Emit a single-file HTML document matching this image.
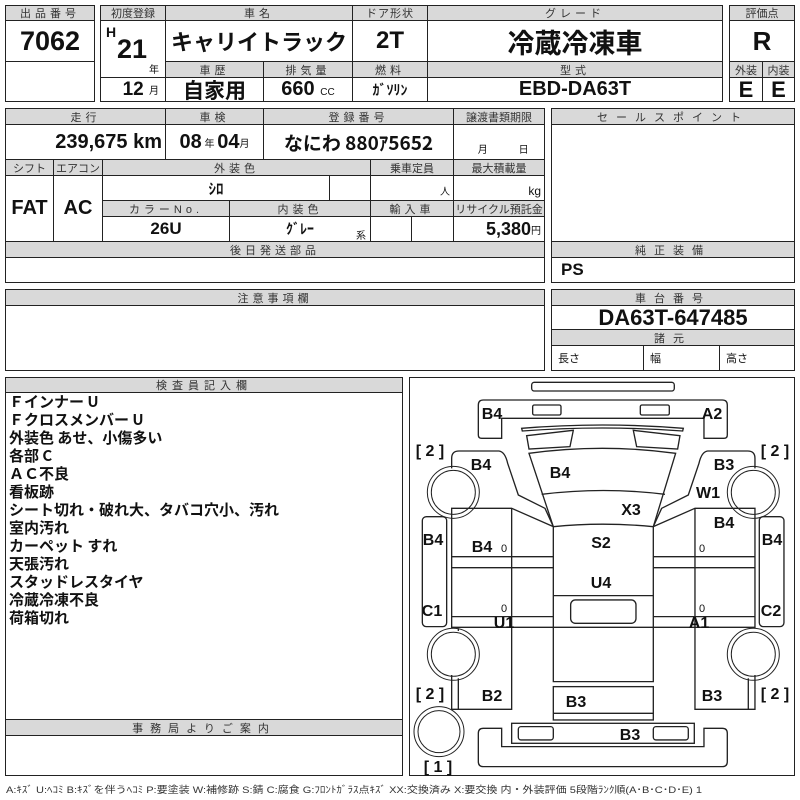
<!DOCTYPE html>
<html><head><meta charset="utf-8">
<style>
body{margin:0;width:800px;height:800px;background:#fff;position:relative;overflow:hidden;font-family:"Liberation Sans","Noto Sans CJK JP",sans-serif;color:#111}
.b{position:absolute;border:1px solid #222;box-sizing:border-box;display:flex;align-items:center;justify-content:center;white-space:nowrap;margin:0}
.h{background:#d9d9d9;font-size:11px;color:#333;letter-spacing:4px}
.v{font-family:"Liberation Sans Narrow","Liberation Sans","Noto Sans CJK JP",sans-serif;font-weight:bold}
.s{font-size:10px;font-weight:normal;font-family:"Liberation Sans","Noto Sans CJK JP",sans-serif}
.ins{position:absolute;left:9px;font-weight:bold;font-size:15px;font-family:"Noto Sans CJK JP",sans-serif;line-height:18px}
</style></head><body>
<!-- block 1 -->
<div class="b h" style="left:5px;top:5px;width:90px;height:16px">出品番号</div>
<div class="b v" style="left:5px;top:20px;width:90px;height:42px;font-size:27px">7062</div>
<div class="b" style="left:5px;top:61px;width:90px;height:41px"></div>

<div class="b h" style="left:100px;top:5px;width:66px;height:16px;letter-spacing:0">初度登録</div>
<div class="b h" style="left:165px;top:5px;width:188px;height:16px">車名</div>
<div class="b h" style="left:352px;top:5px;width:76px;height:16px;letter-spacing:1px">ドア形状</div>
<div class="b h" style="left:427px;top:5px;width:296px;height:16px">グレード</div>
<div class="b" style="left:100px;top:20px;width:66px;height:58px"></div>
<div class="v" style="position:absolute;left:106px;top:24px;font-size:14px">H</div>
<div class="v" style="position:absolute;left:117px;top:34px;font-size:27px">21</div>
<div class="s" style="position:absolute;left:149px;top:61px">年</div>
<div class="b v" style="left:165px;top:20px;width:188px;height:42px;font-size:22px;font-family:'Noto Sans CJK JP',sans-serif">キャリイトラック</div>
<div class="b v" style="left:352px;top:20px;width:76px;height:42px;font-size:24px">2T</div>
<div class="b" style="left:427px;top:20px;width:296px;height:42px;font-size:27px;font-weight:bold;font-family:'Noto Sans CJK JP',sans-serif">冷蔵冷凍車</div>
<div class="b h" style="left:165px;top:61px;width:99px;height:17px">車歴</div>
<div class="b h" style="left:263px;top:61px;width:90px;height:17px">排気量</div>
<div class="b h" style="left:352px;top:61px;width:76px;height:17px">燃料</div>
<div class="b h" style="left:427px;top:61px;width:296px;height:17px">型式</div>
<div class="b v" style="left:100px;top:77px;width:66px;height:25px;font-size:19px;justify-content:flex-end;padding-right:6px">12&nbsp;<span class="s">月</span></div>
<div class="b" style="left:165px;top:77px;width:99px;height:25px;font-size:21px;font-weight:bold;font-family:'Noto Sans CJK JP',sans-serif">自家用</div>
<div class="b v" style="left:263px;top:77px;width:90px;height:25px;font-size:20px">660&nbsp;<span class="s" style="margin-top:6px">CC</span></div>
<div class="b" style="left:352px;top:77px;width:76px;height:25px;font-size:14px;font-weight:bold;font-family:'Noto Sans CJK JP',sans-serif">ｶﾞｿﾘﾝ</div>
<div class="b v" style="left:427px;top:77px;width:296px;height:25px;font-size:20px">EBD-DA63T</div>

<div class="b h" style="left:729px;top:5px;width:66px;height:16px;letter-spacing:0">評価点</div>
<div class="b v" style="left:729px;top:20px;width:66px;height:42px;font-size:26px">R</div>
<div class="b h" style="left:729px;top:61px;width:34px;height:17px;letter-spacing:0">外装</div>
<div class="b h" style="left:762px;top:61px;width:33px;height:17px;letter-spacing:0">内装</div>
<div class="b v" style="left:729px;top:77px;width:34px;height:25px;font-size:22px">E</div>
<div class="b v" style="left:762px;top:77px;width:33px;height:25px;font-size:22px">E</div>

<!-- block 2 -->
<div class="b h" style="left:5px;top:108px;width:161px;height:17px">走行</div>
<div class="b h" style="left:165px;top:108px;width:99px;height:17px">車検</div>
<div class="b h" style="left:263px;top:108px;width:191px;height:17px">登録番号</div>
<div class="b h" style="left:453px;top:108px;width:92px;height:17px;letter-spacing:0">譲渡書類期限</div>
<div class="b v" style="left:5px;top:124px;width:161px;height:36px;font-size:20px;justify-content:flex-end;padding-right:3px">239,675 km</div>
<div class="b v" style="left:165px;top:124px;width:99px;height:36px;font-size:20px">08<span class="s">&nbsp;年&nbsp;</span>04<span class="s">月</span></div>
<div class="b" style="left:263px;top:124px;width:191px;height:36px;font-size:19px;font-weight:bold;font-family:'Noto Sans CJK JP',sans-serif">なにわ 880ｱ5652</div>
<div class="b s" style="left:453px;top:124px;width:92px;height:36px;align-items:flex-end;padding-bottom:3px;justify-content:space-around">&nbsp;&nbsp;&nbsp;月<span>日</span></div>
<div class="b h" style="left:5px;top:159px;width:49px;height:17px;letter-spacing:0">シフト</div>
<div class="b h" style="left:53px;top:159px;width:50px;height:17px;letter-spacing:0">エアコン</div>
<div class="b h" style="left:102px;top:159px;width:269px;height:17px">外装色</div>
<div class="b h" style="left:370px;top:159px;width:84px;height:17px;letter-spacing:0">乗車定員</div>
<div class="b h" style="left:453px;top:159px;width:92px;height:17px;letter-spacing:0">最大積載量</div>
<div class="b v" style="left:5px;top:175px;width:49px;height:67px;font-size:20px">FAT</div>
<div class="b v" style="left:53px;top:175px;width:50px;height:67px;font-size:20px">AC</div>
<div class="b" style="left:102px;top:175px;width:228px;height:26px;font-size:15px;font-weight:bold">ｼﾛ</div>
<div class="b" style="left:329px;top:175px;width:42px;height:26px"></div>
<div class="b s" style="left:370px;top:175px;width:84px;height:26px;justify-content:flex-end;align-items:flex-end;padding:0 3px 2px 0">人</div>
<div class="b s" style="left:453px;top:175px;width:92px;height:26px;justify-content:flex-end;align-items:flex-end;padding:0 3px 2px 0;font-size:12px">kg</div>
<div class="b h" style="left:102px;top:200px;width:128px;height:17px">カラーNo.</div>
<div class="b h" style="left:229px;top:200px;width:142px;height:17px">内装色</div>
<div class="b h" style="left:370px;top:200px;width:84px;height:17px">輸入車</div>
<div class="b h" style="left:453px;top:200px;width:92px;height:17px;letter-spacing:0">リサイクル預託金</div>
<div class="b v" style="left:102px;top:216px;width:128px;height:26px;font-size:17px">26U</div>
<div class="b" style="left:229px;top:216px;width:142px;height:26px;font-size:14px;font-weight:bold">ｸﾞﾚｰ</div>
<div class="s" style="position:absolute;left:356px;top:227px">系</div>
<div class="b" style="left:370px;top:216px;width:42px;height:26px"></div>
<div class="b" style="left:411px;top:216px;width:43px;height:26px"></div>
<div class="b v" style="left:453px;top:216px;width:92px;height:26px;font-size:18px;justify-content:flex-end;padding-right:3px">5,380<span class="s">円</span></div>
<div class="b h" style="left:5px;top:241px;width:540px;height:17px">後日発送部品</div>
<div class="b" style="left:5px;top:257px;width:540px;height:26px"></div>

<div class="b h" style="left:551px;top:108px;width:244px;height:17px;letter-spacing:8px">セールスポイント</div>
<div class="b" style="left:551px;top:124px;width:244px;height:118px"></div>
<div class="b h" style="left:551px;top:241px;width:244px;height:17px;letter-spacing:8px">純正装備</div>
<div class="b v" style="left:551px;top:257px;width:244px;height:26px;font-size:17px;justify-content:flex-start;padding-left:9px">PS</div>

<!-- block 3 -->
<div class="b h" style="left:5px;top:289px;width:540px;height:17px">注意事項欄</div>
<div class="b" style="left:5px;top:305px;width:540px;height:66px"></div>
<div class="b h" style="left:551px;top:289px;width:244px;height:17px;letter-spacing:8px">車台番号</div>
<div class="b v" style="left:551px;top:305px;width:244px;height:25px;font-size:22px">DA63T-647485</div>
<div class="b h" style="left:551px;top:329px;width:244px;height:17px;letter-spacing:8px">諸元</div>
<div class="b s" style="left:551px;top:345px;width:93px;height:26px;justify-content:flex-start;padding-left:6px;font-size:11px">長さ</div>
<div class="b s" style="left:643px;top:345px;width:77px;height:26px;justify-content:flex-start;padding-left:6px;font-size:11px">幅</div>
<div class="b s" style="left:719px;top:345px;width:76px;height:26px;justify-content:flex-start;padding-left:6px;font-size:11px">高さ</div>

<!-- block 4 -->
<div class="b h" style="left:5px;top:377px;width:398px;height:16px;letter-spacing:5px">検査員記入欄</div>
<div class="b" style="left:5px;top:392px;width:398px;height:328px"></div>
<div class="ins" style="top:393px">Ｆインナー U<br>Ｆクロスメンバー U<br>外装色 あせ、小傷多い<br>各部 C<br>ＡＣ不良<br>看板跡<br>シート切れ・破れ大、タバコ穴小、汚れ<br>室内汚れ<br>カーペット すれ<br>天張汚れ<br>スタッドレスタイヤ<br>冷蔵冷凍不良<br>荷箱切れ</div>
<div class="b h" style="left:5px;top:719px;width:398px;height:17px;letter-spacing:7px">事務局よりご案内</div>
<div class="b" style="left:5px;top:735px;width:398px;height:41px"></div>

<div class="b" style="left:409px;top:377px;width:386px;height:399px"></div>
<svg style="position:absolute;left:0;top:0" width="800" height="800">
<g transform="translate(405,375) scale(0.3333)" fill="none" stroke="#222" stroke-width="4">
<rect x="380" y="22" width="428" height="26" rx="8"/>
<path d="M220,180 V90 Q220,75 235,75 H952 Q967,75 967,90 V180 Q967,190 957,190 H897 V130 H290 V190 H230 Q220,190 220,180 Z"/>
<rect x="383" y="90" width="85" height="30" rx="5"/><rect x="706" y="90" width="87" height="30" rx="5"/>
<path d="M350,160 Q592,140 835,160 L833,168 Q592,150 352,168 Z"/>
<path d="M365,182 L505,166 L495,215 L372,222 Z"/><path d="M825,182 L685,166 L695,215 L818,222 Z"/>
<path d="M372,235 Q592,205 812,235 L745,455 Q592,440 445,455 Z"/>
<path d="M410,358 Q595,335 780,358"/>
<path d="M140,280 V250 Q140,228 162,228 H282 Q300,230 308,265 L340,360 L420,400 L445,455"/>
<path d="M1050,280 V250 Q1050,228 1028,228 H908 Q890,230 882,265 L850,360 L770,400 L745,455"/>
<g stroke-width="3">
<circle cx="145" cy="352" r="78"/><circle cx="145" cy="352" r="66"/>
<circle cx="1045" cy="352" r="78"/><circle cx="1045" cy="352" r="66"/>
<circle cx="145" cy="838" r="78"/><circle cx="145" cy="838" r="66"/>
<circle cx="1045" cy="838" r="78"/><circle cx="1045" cy="838" r="66"/>
<circle cx="102" cy="1070" r="75"/><circle cx="102" cy="1070" r="63"/>
</g>
<rect x="52" y="425" width="73" height="330" rx="12"/><rect x="1063" y="425" width="74" height="330" rx="12"/>
<path d="M140,760 V400 H320 L445,455"/>
<path d="M320,400 V1003 H140 V900"/><path d="M160,1003 V910"/><path d="M160,760 V768"/>
<path d="M140,545 H445 M140,578 H445 M140,725 H445 M140,757 H1050"/>
<path d="M1050,760 V400 H870 L745,455"/>
<path d="M870,400 V1003 H1050 V900"/><path d="M1030,1003 V910"/>
<path d="M745,545 H1050 M745,578 H1050 M745,725 H1050"/>
<path d="M445,455 V920 H745 V455"/>
<path d="M445,662 H745"/>
<rect x="497" y="675" width="196" height="70" rx="14"/>
<rect x="445" y="935" width="300" height="100"/><path d="M445,1015 H745"/>
<path d="M220,1075 Q220,1060 235,1060 H290 V1115 H897 V1060 H952 Q967,1060 967,1075 V1160 Q967,1175 952,1175 H235 Q220,1175 220,1160 Z"/>
<rect x="320" y="1045" width="548" height="60"/>
<rect x="340" y="1055" width="105" height="40" rx="8"/><rect x="745" y="1055" width="105" height="40" rx="8"/>
</g>
<g font-family="Liberation Sans Narrow,Liberation Sans,sans-serif" font-weight="bold" font-size="16" fill="#111" text-anchor="middle">
<text x="492" y="419">B4</text><text x="712" y="419">A2</text>
<text x="481" y="470">B4</text><text x="560" y="478">B4</text><text x="724" y="470">B3</text>
<text x="708" y="498">W1</text><text x="631" y="515">X3</text><text x="724" y="528">B4</text>
<text x="433" y="545">B4</text><text x="482" y="552">B4</text><text x="601" y="548">S2</text><text x="772" y="545">B4</text>
<text x="601" y="588">U4</text><text x="432" y="616">C1</text><text x="771" y="616">C2</text>
<text x="504" y="628">U1</text><text x="699" y="628">A1</text>
<text x="492" y="701">B2</text><text x="576" y="707">B3</text><text x="712" y="701">B3</text>
<text x="630" y="740">B3</text>
</g>
<g font-family="Liberation Sans,sans-serif" font-size="11" fill="#111" text-anchor="middle">
<text x="504" y="552">0</text><text x="702" y="552">0</text><text x="504" y="612">0</text><text x="702" y="612">0</text>
</g>
<g font-family="Liberation Sans,sans-serif" font-size="16" fill="#111" text-anchor="middle"><g font-weight="bold">
<text x="430" y="456">[ 2 ]</text><text x="775" y="456">[ 2 ]</text>
<text x="430" y="699">[ 2 ]</text><text x="775" y="699">[ 2 ]</text>
<text x="438" y="772">[ 1 ]</text></g></g>
</svg>
<div style="position:absolute;left:6px;top:782px;font-size:9.5px;color:#333;white-space:nowrap;transform:scaleX(1.16);transform-origin:left top;font-family:'Liberation Sans','Noto Sans CJK JP',sans-serif">A:ｷｽﾞ U:ﾍｺﾐ B:ｷｽﾞを伴うﾍｺﾐ P:要塗装 W:補修跡 S:錆 C:腐食 G:ﾌﾛﾝﾄｶﾞﾗｽ点ｷｽﾞ XX:交換済み X:要交換 内・外装評価 5段階ﾗﾝｸ順(A･B･C･D･E) 1</div>
</body></html>
